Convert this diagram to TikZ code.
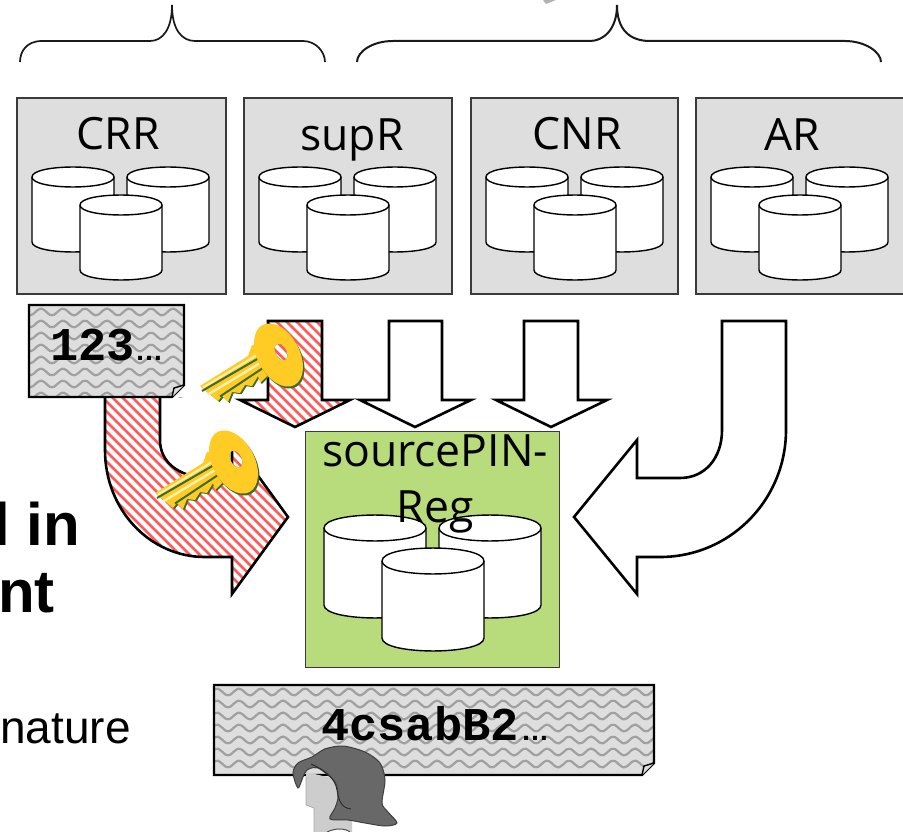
\documentclass[tikz,border=0pt]{standalone}
\usepackage{fontspec}
\setmainfont{Open Sans}
\newfontfamily\arialf{Liberation Sans}
\newfontfamily\monof{Liberation Mono}
\usetikzlibrary{calc}
\definecolor{boxgrey}{HTML}{DEDEDE}
\definecolor{boxedge}{HTML}{3A3A3A}
\definecolor{docgrey}{HTML}{DEDEDE}
\definecolor{wavegrey}{HTML}{A0A0A0}
\definecolor{greenbox}{HTML}{B8DB7C}
\definecolor{stripered}{HTML}{FF5A5A}
\definecolor{keygold}{HTML}{FFCB25}
\definecolor{keydark}{HTML}{3F6B2F}
\definecolor{keypale}{HTML}{FFF0B0}
\definecolor{hairgrey}{HTML}{686868}
\definecolor{facegrey}{HTML}{CDCDCD}
\tikzset{
  regbox/.style={draw=boxedge,line width=1.8pt,fill=boxgrey,rectangle,anchor=north west,inner sep=0pt,minimum width=#1,minimum height=196pt},
  reglabel/.style={font=\fontsize{44.5}{50}\selectfont,text=black,inner sep=0pt,anchor=base},
  cylshape/.style={draw=black,line width=1.4pt,fill=white},
  blockarrow/.style={draw=black,line width=2.6pt,line join=miter},
  bracecurve/.style={draw=black!90,line width=1.7pt},
  docedge/.style={draw=black,line width=2.4pt,line join=miter},
  wave/.style={draw=wavegrey,line width=2.2pt},
  hatch/.style={draw=stripered,line width=2.5pt},
  doctext/.style={font=\monof\bfseries\fontsize{47}{50}\selectfont,inner sep=0pt},
  dots/.style={font=\arialf\bfseries\fontsize{28}{30}\selectfont,inner sep=0pt}
}
% cx, top centre y, rx, ry, bottom centre y
\newcommand{\cylin}[5]{%
  \draw[cylshape] ({#1-#3},#2) -- ({#1-#3},#5)
    .. controls ({#1-#3},{#5+1.33*#4}) and ({#1+#3},{#5+1.33*#4}) .. ({#1+#3},#5)
    -- ({#1+#3},#2)
    .. controls ({#1+#3},{#2-1.33*#4}) and ({#1-#3},{#2-1.33*#4}) .. ({#1-#3},#2) -- cycle;
  \draw[cylshape,fill=none] ({#1-#3},#2)
    .. controls ({#1-#3},{#2+1.33*#4}) and ({#1+#3},{#2+1.33*#4}) .. ({#1+#3},#2);
}
\newcommand{\trio}[1]{%
  \cylin{#1+73}{177}{41}{10}{242}
  \cylin{#1+168}{177}{41}{10}{242}
  \cylin{#1+121}{205}{41}{10}{270}
}
% wave fill: x0 y0 x1 y1
\newcommand{\wavefill}[4]{%
  \foreach \k in {0,...,8}{
    \pgfmathsetmacro{\yy}{#2+7+12*\k}
    \ifdim \yy pt<#4pt
      \draw[wave] plot[smooth,domain=#1:#3,samples={int((#3-#1)/4)}] (\x,{\yy+3.4*sin((\x-228)*16.36+90)});
    \fi
  }
}
\newcommand{\keyicon}[2]{%
  \begin{scope}[shift={(#1,#2)}]
    \fill[keydark,shift={(1.6,1.2)}] (200,386) -- (218,401) -- (222,396) -- (228,402) -- (232,392) -- (240,393) -- (245,385) -- (252,386) -- (258,376) -- (260,383) -- (267,376) -- (275,378) -- (270,350) -- cycle;
    \fill[keygold] (200,386) -- (218,401) -- (222,396) -- (228,402) -- (232,392) -- (240,393) -- (245,385) -- (252,386) -- (258,376) -- (260,383) -- (267,376) -- (275,378) -- (270,345) -- (252,345) -- (248,356) -- cycle;
    \draw[keypale,line width=2pt] (203,387.5) -- (257,355);
    \draw[keypale,line width=2.4pt] (208,394.5) -- (261,362.5);
    \draw[keydark,line width=2pt] (202,391) -- (259,358);
    \draw[keydark,line width=2pt] (220,396.5) -- (263,368);
    % bow with hole
    \fill[keydark,even odd rule] (280,357) ellipse[x radius=34pt,y radius=21pt,rotate=-62]
       (281,352) ellipse[x radius=9pt,y radius=5.5pt,rotate=-62];
    \fill[keygold,even odd rule] (278.5,355) ellipse[x radius=34pt,y radius=21pt,rotate=-62]
       (281,352) ellipse[x radius=9pt,y radius=5.5pt,rotate=-62];
  \end{scope}
}
\begin{document}
\begin{tikzpicture}[x=1pt,y=-1pt]
\useasboundingbox (0,0) rectangle (903,832);

% braces
\draw[bracecurve] (20,62) .. controls (20,52) and (26,41) .. (42,41) -- (150,41)
  .. controls (162,41) and (172,30) .. (172,5)
  .. controls (172,30) and (182,41) .. (195,41) -- (303,41)
  .. controls (316,41) and (325,52) .. (325,62);
\draw[bracecurve,line width=2pt] (357,62) .. controls (357,52) and (372,41) .. (393,41) -- (590,41)
  .. controls (603,41) and (617,30) .. (617,5)
  .. controls (617,30) and (630,41) .. (650,41) -- (845,41)
  .. controls (865,41) and (881,52) .. (881,62);
\fill[black!30] (543,0) -- (556,0) -- (546,4) -- cycle;

% register boxes
\node[regbox=209pt] (crrbox) at (16,97) {};
\node[regbox=208pt] (suprbox) at (243,97) {};
\node[regbox=207pt] (cnrbox) at (470,97) {};
\node[regbox=208pt] (arbox) at (695,97) {};
\trio{0}\trio{227}\trio{454}\trio{679}
\node[reglabel] (crrlab) at (118,150) {CRR};
\node[reglabel] (suprlab) at (352,151) {supR};
\node[reglabel] (cnrlab) at (577,150) {CNR};
\node[reglabel] (arlab) at (792,151) {AR};

% white arrows
\draw[blockarrow,fill=white] (389,321) -- (442,321) -- (442,400) -- (471,400) -- (415,427) -- (360,400) -- (389,400) -- cycle;
\draw[blockarrow,fill=white] (524,321) -- (578,321) -- (578,400) -- (607,400) -- (551,427) -- (496,400) -- (524,400) -- cycle;
\draw[blockarrow,fill=white] (722,321) -- (786,321) -- (786,430)
  .. controls (786,500) and (730,557) .. (660,557) -- (637,557) -- (637,594) -- (574,517) -- (637,440) -- (637,478) -- (680,478)
  .. controls (705,478) and (722,458) .. (722,430) -- cycle;

% red small arrow
\begin{scope}
  \clip (268,321) -- (322,321) -- (322,400) -- (350,400) -- (295,427) -- (240,400) -- (268,400) -- cycle;
  \fill[white] (230,315) rectangle (360,430);
  \foreach \i in {-10,0,...,350} { \draw[hatch] (\i,315) -- ({\i+120},435); }
\end{scope}
\draw[blockarrow] (268,321) -- (322,321) -- (322,400) -- (350,400) -- (295,427) -- (240,400) -- (268,400) -- cycle;

% red large arrow
\begin{scope}
  \clip (105,390) -- (160,390) -- (160,440)
    .. controls (160,462) and (178,476) .. (205,478) -- (232,478) -- (232,440) -- (288,517) -- (232,594) -- (232,557) -- (205,557)
    .. controls (150,557) and (105,510) .. (105,450) -- cycle;
  \fill[white] (100,385) rectangle (295,600);
  \foreach \i in {-150,-140,...,300} { \draw[hatch] (\i,385) -- ({\i+220},605); }
\end{scope}
\draw[blockarrow] (105,390) -- (105,450)
    .. controls (105,510) and (150,557) .. (205,557) -- (232,557) -- (232,594) -- (288,517) -- (232,440) -- (232,478) -- (205,478)
    .. controls (178,476) and (160,462) .. (160,440) -- (160,390);

% green register
\node[draw=boxedge,line width=1.2pt,fill=greenbox,rectangle,anchor=north west,inner sep=0pt,minimum width=254pt,minimum height=236pt] (srcbox) at (305,431) {};
\cylin{375}{528}{51}{13}{605}
\cylin{490}{528}{51}{13}{605}
\cylin{433}{561}{51}{13}{638}
\node[font=\fontsize{44.5}{56}\selectfont,align=center,inner sep=0pt,anchor=north] (srclab) at (435,435) {sourcePIN-\\Reg};

% doc 123
\begin{scope}
  \clip (29,305) rectangle (184,397);
  \fill[docgrey] (29,305) rectangle (184,397);
  \wavefill{25}{305}{190}{397}
\end{scope}
\fill[white] (184,385) -- (184,397) -- (172,397) -- cycle;
\draw[docedge] (29,305) -- (184,305) -- (184,385) -- (172,397) -- (29,397) -- cycle;
\draw[black,line width=1.4pt,fill=docgrey] (172,397) -- (174,388) -- (184,385);
\node[doctext,anchor=base west] (numtext) at (50,360) {123};
\node[dots,anchor=base west] (numdots) at (135,360) {…};

% doc 4csabB2
\begin{scope}
  \clip (214,685) rectangle (654,775);
  \fill[docgrey] (214,685) rectangle (654,775);
  \wavefill{210}{685}{660}{775}
\end{scope}
\fill[white] (654,763) -- (654,775) -- (642,775) -- cycle;
\draw[docedge] (214,685) -- (654,685) -- (654,763) -- (642,775) -- (214,775) -- cycle;
\draw[black,line width=1.4pt,fill=docgrey] (642,775) -- (644,766) -- (654,763);
\node[doctext,anchor=base west] (sigtext) at (321,740) {4csabB2};
\node[dots,anchor=base west] (sigdots) at (521,740) {…};

% keys
\keyicon{0}{0}
\keyicon{-45}{107}

% left text
\node[font=\arialf\bfseries\fontsize{60}{60}\selectfont,anchor=base east,inner sep=0pt] (lineone) at (80,545) {l in};
\node[font=\arialf\bfseries\fontsize{60}{60}\selectfont,anchor=base east,inner sep=0pt] (linetwo) at (55,612) {nt};
\node[font=\arialf\fontsize{46}{46}\selectfont,anchor=base east,inner sep=0pt] (linethree) at (131,743) {nature};

% person
\fill[facegrey] (306,772) -- (306,805) -- (314,808) -- (314,832) -- (352,832) -- (352,815) -- (340,780) -- cycle;
\draw[black!70,line width=1pt,fill=white] (327,832) .. controls (335,828) and (345,828) .. (350,832);
\draw[black!35,line width=0.7pt] (306,777) -- (306,805) -- (314,808) -- (314,832);
\draw[hairgrey!60!black,line width=1pt,fill=hairgrey]
  plot[smooth cycle,tension=0.5] coordinates {(298,788) (293,773) (298,763) (312,757) (325,749) (343,746) (365,752) (380,763) (385,780) (382,803) (388,812) (397,823) (385,826) (365,823) (348,820) (330,819) (335,808) (338,797) (335,782) (318,768) (307,770) (303,777)};
\draw[hairgrey!40!black,line width=0.9pt] (311,764) .. controls (325,770) and (335,778) .. (337,790) .. controls (339,802) and (342,808) .. (351,809);
\end{tikzpicture}
\end{document}
